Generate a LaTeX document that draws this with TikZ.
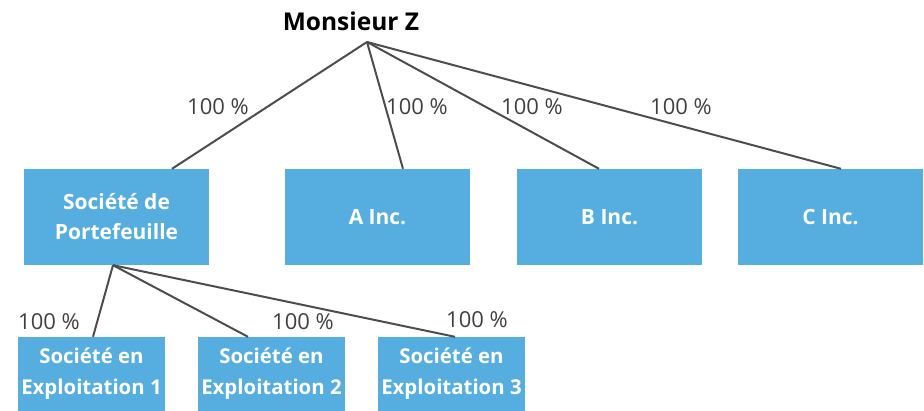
\documentclass[tikz,border=0pt]{standalone}
\usepackage{fontspec}
\setmainfont{Open Sans}
\definecolor{boxblue}{RGB}{85,173,224}
\definecolor{linegray}{RGB}{77,77,77}
\definecolor{labelgray}{RGB}{64,64,64}
\begin{document}
\begin{tikzpicture}[x=1pt,y=-1pt,
  entity/.style={fill=boxblue,draw=none,inner sep=0pt,text=white,align=center},
  topbox/.style={entity,minimum width=185pt,minimum height=96pt,
    font=\fontsize{21}{30}\selectfont\bfseries},
  opbox/.style={entity,minimum width=147pt,minimum height=74pt,
    font=\fontsize{20.4}{31}\selectfont\bfseries},
  link/.style={draw=linegray,line width=2pt},
  pct/.style={text=labelgray,inner sep=0pt,font=\fontsize{22}{26}\selectfont}]
\useasboundingbox (0,0) rectangle (924,411);
\begin{scope}
\clip (0,0) rectangle (924,411);
% owner
\node[font=\fontsize{24.5}{29}\selectfont\bfseries,inner sep=0pt] (owner) at (351,21) {Monsieur Z};
\coordinate (apex) at (367,42);
% first tier
\node[topbox] (hold) at (116.5,217) {Société de\\Portefeuille};
\node[topbox] (ainc) at (377.5,217) {A Inc.};
\node[topbox] (binc) at (609.5,217) {B Inc.};
\node[topbox] (cinc) at (830.5,217) {C Inc.};
% operating companies
\node[opbox] (op1) at (91.5,374) {Société en\\Exploitation 1};
\node[opbox] (op2) at (271.5,374) {Société en\\Exploitation 2};
\node[opbox] (op3) at (451.5,374) {Société en\\Exploitation 3};
% ownership links
\draw[link] (apex) -- ([xshift=55.5pt]hold.north);
\draw[link] (apex) -- ([xshift=25.5pt]ainc.north);
\draw[link] (apex) -- ([xshift=-10.5pt]binc.north);
\draw[link] (apex) -- ([xshift=10.5pt]cinc.north);
\coordinate (hbase) at ([xshift=-3.5pt]hold.south);
\draw[link] (hbase) -- ([xshift=1.5pt]op1.north);
\draw[link] (hbase) -- ([xshift=-23.5pt]op2.north);
\draw[link] (hbase) -- ([xshift=3.5pt]op3.north);
% percentages
\node[pct] (p1) at (218,107) {100 \%};
\node[pct] (p2) at (417,107) {100 \%};
\node[pct] (p3) at (532,107) {100 \%};
\node[pct] (p4) at (681,107) {100 \%};
\node[pct] (p5) at (49,322) {100 \%};
\node[pct] (p6) at (303,322) {100 \%};
\node[pct] (p7) at (477,320) {100 \%};
\end{scope}
\end{tikzpicture}
\end{document}
